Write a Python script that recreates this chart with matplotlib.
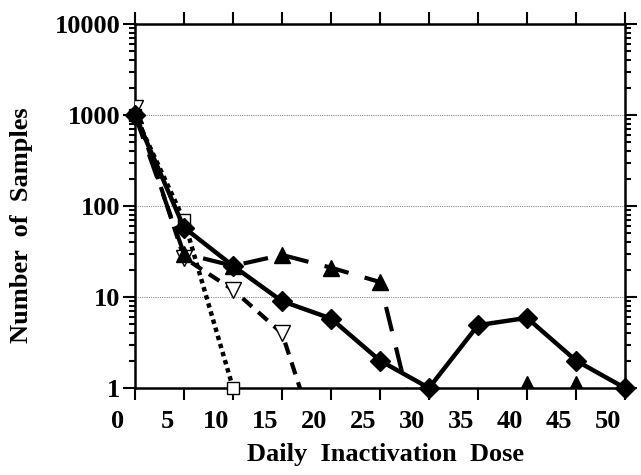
import matplotlib
matplotlib.use('Agg')
import matplotlib.pyplot as plt
import numpy as np
from matplotlib.transforms import ScaledTranslation
from matplotlib.ticker import FixedLocator, LogLocator, NullFormatter

# data (zeros in the original are drawn as ~0.09 on the log axis)
dose = [0, 5, 10, 15, 20, 25, 30, 35, 40, 45, 50]
diamond_vals = [1000, 58, 22, 9, 5.8, 2, 1, 4.9, 5.9, 2, 1]

tri_dose = [0, 5, 10, 15, 20, 25, 30]
tri_vals = [1000, 30, 22, 29, 21, 14.6, 0.09]
tri_floor_dose = [40, 45]
tri_floor_vals = [1, 1]

vtri_dose = [0, 5, 10, 15, 20]
vtri_vals = [1200, 27, 12, 4, 0.09]

sq_dose = [0, 5, 10]
sq_vals = [1000, 70, 1]

x_labels = ['0', '5', '10', '15', '20', '25', '30', '35', '40', '45', '50']
y_ticks = [1, 10, 100, 1000, 10000]
y_labels = ['1', '10', '100', '1000', '10000']

plt.rcParams['font.family'] = ['Liberation Serif', 'DejaVu Serif']
plt.rcParams['font.weight'] = 'bold'

fig = plt.figure(figsize=(6.41, 4.75), dpi=100)
ax = fig.add_axes([135 / 641, 1 - 388 / 475, 490 / 641, 364 / 475])

# grid
for v in [10, 100, 1000]:
    ax.axhline(v, color='#888888', linestyle=(0, (1, 1)), linewidth=0.8, zorder=0)

# dotted, open squares
ax.plot(sq_dose, sq_vals, color='black', linestyle=(0, (1, 0.9)), linewidth=3.2,
        marker='s', markersize=8, markerfacecolor='white', markeredgecolor='black',
        markeredgewidth=1.0, clip_on=False, zorder=3)

# medium dash, open down triangles
ax.plot(vtri_dose, vtri_vals, color='black', linestyle=(0, (3, 2)), linewidth=3.0,
        marker='v', markersize=11, markerfacecolor='white', markeredgecolor='black',
        markeredgewidth=1.0, zorder=4)

# long dash, filled triangles
ax.plot(tri_dose, tri_vals, color='black', linestyle=(0, (6, 4)), linewidth=3.0,
        marker='^', markersize=12, markerfacecolor='black', markeredgecolor='black',
        zorder=5)
ax.plot(tri_floor_dose, tri_floor_vals, linestyle='none', marker='^', markersize=17,
        color='black', zorder=5)

# solid, filled diamonds
ax.plot(dose, diamond_vals, color='black', linestyle='-', linewidth=3.2,
        marker='D', markersize=10, markerfacecolor='black', markeredgecolor='black',
        clip_on=False, zorder=6)

ax.set_yscale('log')
ax.set_ylim(1, 10000)
ax.set_xlim(0, 50)

ax.set_xticks(dose)
ax.set_xticklabels(x_labels)
ax.yaxis.set_major_locator(FixedLocator(y_ticks))
ax.set_yticklabels(y_labels)
ax.yaxis.set_minor_locator(LogLocator(base=10, subs=np.arange(2, 10)))
ax.yaxis.set_minor_formatter(NullFormatter())

ax.tick_params(axis='both', which='major', direction='out', length=8.5, width=1.5,
               labelsize=19, top=True, right=True)
ax.tick_params(axis='y', which='minor', direction='out', length=4.3, width=1.5,
               right=True)
ax.tick_params(axis='x', which='major', pad=7)
ax.tick_params(axis='y', which='major', pad=2)

for s in ax.spines.values():
    s.set_linewidth(1.8)

# the original prints the x labels a bit left of their ticks
offset = ScaledTranslation(-17 / 100, 0, fig.dpi_scale_trans)
for lab in ax.get_xticklabels():
    lab.set_transform(lab.get_transform() + offset)

fig.text(386 / 641, 1 - 455 / 475, 'Daily  Inactivation  Dose', ha='center', va='center',
         fontsize=19, fontweight='bold')
fig.text(22 / 641, 1 - 225 / 475, 'Number  of  Samples', ha='center', va='center',
         rotation=90, fontsize=19, fontweight='bold')

fig.savefig('out.png', dpi=100)
